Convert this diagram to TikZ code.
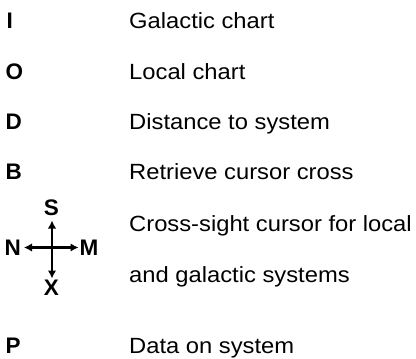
\documentclass[tikz,border=0pt]{standalone}
\usepackage{fontspec}
\setmainfont{Liberation Sans}[FakeStretch=1.08]
\newfontfamily\labfont{Liberation Sans}
\usetikzlibrary{arrows.meta}
\begin{document}
\begin{tikzpicture}[x=1pt,y=1pt,
  key/.style={font=\labfont\bfseries\fontsize{22.5}{26}\selectfont, inner sep=0pt, anchor=base west},
  desc/.style={font=\fontsize{22}{26}\selectfont, inner sep=0pt, anchor=base west},
  dirlab/.style={font=\labfont\bfseries\fontsize{22.5}{26}\selectfont, inner sep=0pt},
  dirarrow/.style={line width=2.4pt, {Latex[length=8pt,width=8.5pt]}-{Latex[length=8pt,width=8.5pt]}}]
\useasboundingbox (0,0) rectangle (416,-359);
% keys
\node[key] (kI) at (6.5,-28) {I};
\node[key] (kO) at (5.5,-79) {O};
\node[key] (kD) at (5.5,-129) {D};
\node[key] (kB) at (5.5,-179) {B};
\node[key] (kP) at (5.5,-353.5) {P};
% descriptions
\node[desc] (dI) at (129,-28) {Galactic chart};
\node[desc] (dO) at (129,-79) {Local chart};
\node[desc] (dD) at (129,-129) {Distance to system};
\node[desc] (dB) at (129,-179) {Retrieve cursor cross};
\node[desc] (dC1) at (129,-231) {Cross-sight cursor for local};
\node[desc] (dC2) at (129,-282) {and galactic systems};
\node[desc] (dP) at (129,-353.5) {Data on system};
% cross-sight cursor
\node[dirlab, anchor=base] (lS) at (51.5,-215) {S};
\node[dirlab, anchor=base] (lX) at (51.5,-295) {X};
\node[dirlab, anchor=base west] (lN) at (4.5,-255) {N};
\node[dirlab, anchor=base east] (lM) at (98.5,-255) {M};
\coordinate (cN) at (24,-247.5);
\coordinate (cM) at (78.5,-247.5);
\coordinate (cS) at (52,-220.5);
\coordinate (cX) at (52,-278.5);
\draw[dirarrow] (cN) -- (cM);
\draw[dirarrow] (cS) -- (cX);
\end{tikzpicture}
\end{document}
